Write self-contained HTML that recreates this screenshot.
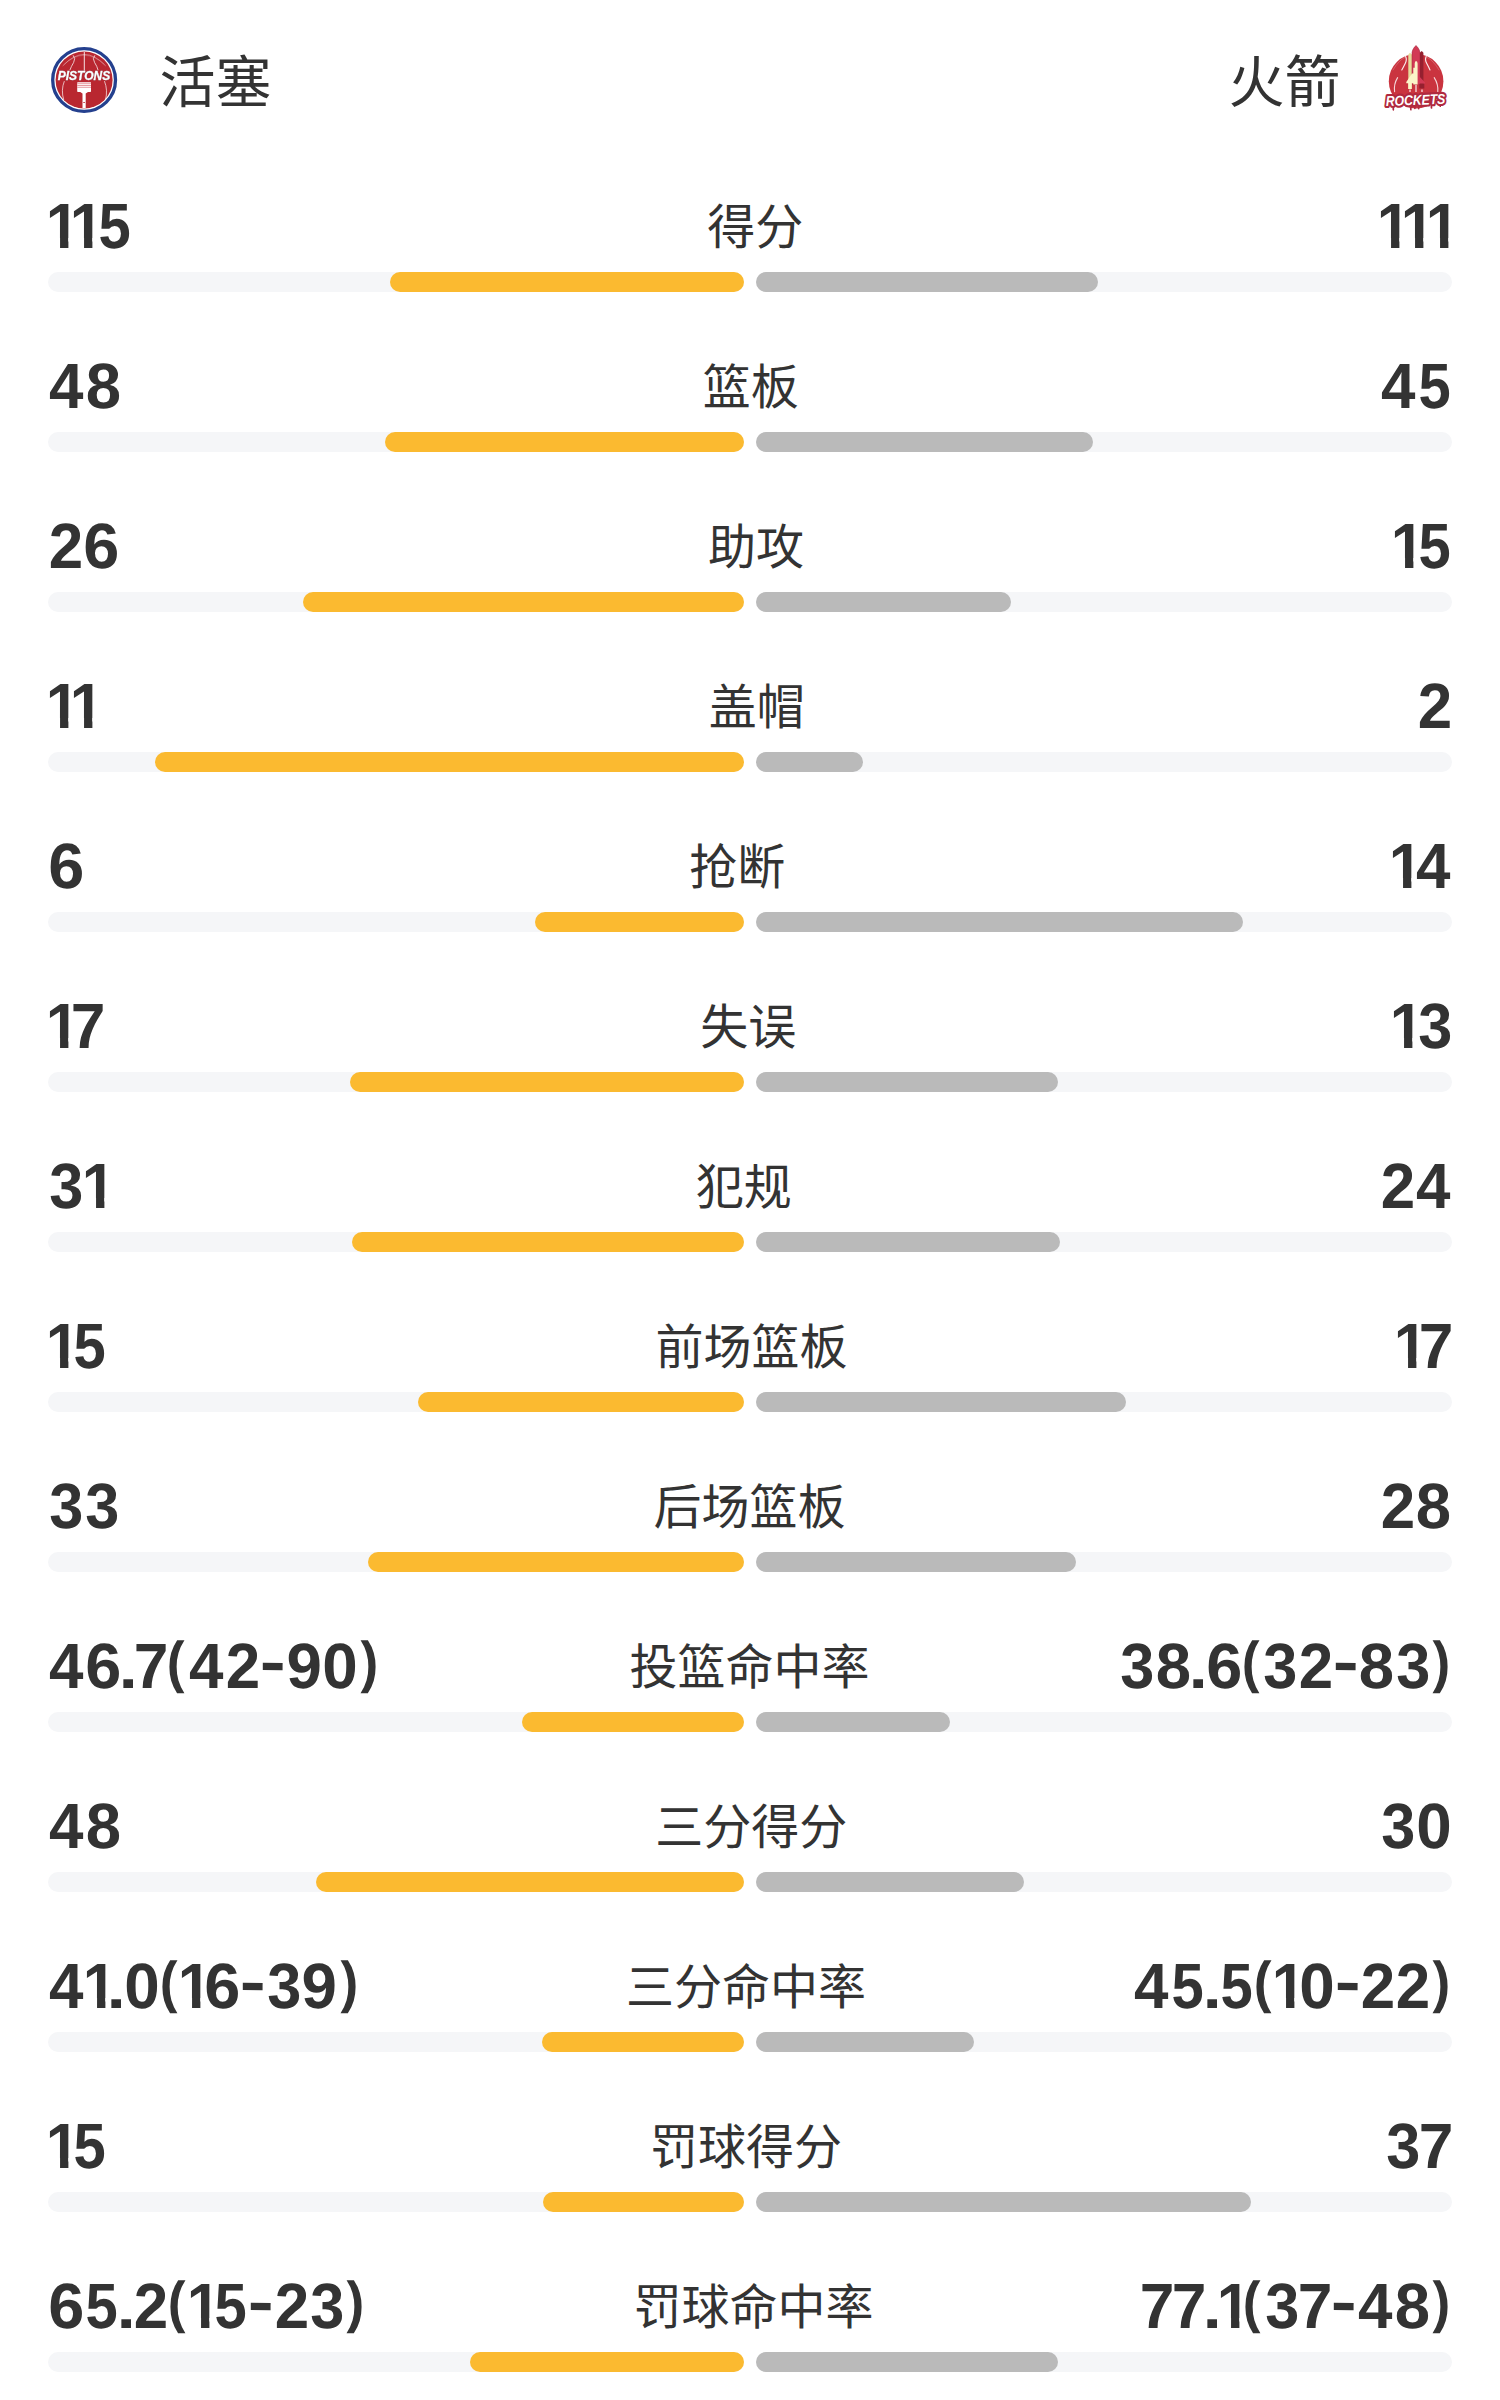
<!DOCTYPE html>
<html lang="zh">
<head>
<meta charset="utf-8">
<title>活塞 vs 火箭</title>
<style>
html,body{margin:0;padding:0;background:#fff}
body{width:1500px;height:2400px;position:relative;overflow:hidden;color:#333;font-family:"Liberation Sans","Noto Sans CJK SC",sans-serif}
.team{position:absolute;top:43px;height:80px;line-height:80px;font-size:56px;font-family:"Liberation Sans","Noto Sans CJK SC",sans-serif;white-space:nowrap}
.row{position:absolute;left:48px;width:1404px;height:72px;display:flex;justify-content:space-between;align-items:flex-start;white-space:nowrap}
.n{display:block;height:72px;line-height:72px;font-size:64px;font-weight:bold;font-family:"Liberation Sans",sans-serif}
.n i{font-style:normal;display:inline-block;height:72px;vertical-align:top;text-align:left;overflow:visible;white-space:nowrap;transform-origin:0 58.2px}
.n i.d1{width:24.3px;text-indent:-2.27px;transform:rotate(.05deg) scale(0.951,1);clip-path:polygon(0 0,40px 0,40px 48px,21.45px 48px,21.45px 72px,12.67px 72px,12.67px 48px,0 48px)}
.n i.d2{width:35.2px;text-indent:0.67px;transform:rotate(.05deg) scale(0.967,1)}
.n i.d3{width:35.5px;text-indent:1.25px;transform:rotate(.05deg) scale(0.956,1)}
.n i.d4{width:37.2px;text-indent:1.10px;transform:rotate(.05deg) scale(0.968,1)}
.n i.d5{width:35.0px;text-indent:1.57px;transform:rotate(.05deg) scale(0.905,1)}
.n i.d6{width:36.2px;text-indent:0.23px;transform:rotate(.05deg) scale(1.012,1)}
.n i.d7{width:31.9px;text-indent:-1.21px;transform:rotate(.05deg) scale(0.972,1)}
.n i.d8{width:36.7px;text-indent:0.80px;transform:rotate(.05deg) scale(0.991,1)}
.n i.d9{width:36.5px;text-indent:0.60px;transform:rotate(.05deg) scale(0.994,1)}
.n i.d0{width:36.0px;text-indent:0.38px;transform:rotate(.05deg) scale(0.995,1)}
.n i.p{width:14.1px;text-indent:-2.18px;transform:rotate(.05deg) scale(1.063,0.93)}
.n i.l{width:20.3px;text-indent:-0.42px;transform:rotate(.05deg) translateY(-6.6px) scale(0.831,0.888)}
.n i.r{width:21.6px;text-indent:3.07px;transform:rotate(.05deg) translateY(-6.6px) scale(0.831,0.888)}
.n i.h{width:25.5px;text-indent:-0.20px;transform:rotate(.05deg) translateY(-5.8px) scale(1.218,0.95)}
.lab{display:block;height:72px;line-height:72px;font-size:48px;font-family:"Liberation Sans","Noto Sans CJK SC",sans-serif;position:relative;top:2px}
.lg{position:absolute;display:block}
.bar{position:absolute;left:48px;width:1404px;height:20px}
.bar b{position:absolute;top:0;height:20px;border-radius:10px;display:block}
.tl{left:0;width:696px;background:#f5f6f8}
.tr{left:708px;width:696px;background:#f5f6f8}
.y{background:#fbba30}
.g{left:708px;background:#bababa}
</style>
</head>
<body>
<svg class="lg" style="left:40px;top:36px" width="90" height="90" viewBox="40 36 90 90">
<circle cx="84.1" cy="80" r="31.4" fill="#fff" stroke="#24408e" stroke-width="3.3"/>
<circle cx="84.1" cy="80" r="28.5" fill="#b92730"/>
<g fill="none" stroke="#fff" stroke-linecap="round">
<path d="M84.3 52.3V71" stroke-width="1" opacity=".85"/>
<path d="M63 65.6Q84.3 43 105.4 65.6" stroke-width=".7" opacity=".55"/>
<path d="M64.5 64Q84.3 46.5 103.9 64" stroke-width=".5" opacity=".35"/>
<path d="M73.4 55.6Q76 58.5 73.6 62.5T70 69.8" stroke-width=".9" opacity=".8"/>
<path d="M94.6 55.6Q92 58.5 94.6 62.5T98 69.8" stroke-width=".9" opacity=".8"/>
<path d="M64.2 81.5Q60.8 90 63.6 99.5" stroke-width=".9" opacity=".75"/>
<path d="M104.6 81.5Q108 90 105.6 99.5" stroke-width=".9" opacity=".75"/>
</g>
<text x="84" y="80" text-anchor="middle" font-family="Liberation Sans, sans-serif" font-weight="bold" font-style="italic" font-size="12.6" textLength="52.4" lengthAdjust="spacingAndGlyphs" fill="#fff" stroke="#fff" stroke-width=".35" style="filter:drop-shadow(.6px .8px 0 rgba(44,32,48,.8))">PISTONS</text>
<path d="M77.9 82.2h12.6q.5 0 .5.5v8.6q0 .7-.7.7h-2.3l-2.3 1.6v14.6h-3.2v-14.6l-2.3-1.6h-2.3q-.7 0-.7-.7v-8.6q0-.5.5-.5z" fill="#fff"/>
<path d="M77.2 83.7h13.8M77.2 85.5h13.8M77.2 87.3h13.8" stroke="#df8288" stroke-width=".8" fill="none"/>
<rect x="83.2" y="102" width="1.8" height=".8" fill="#b92730"/>
</svg>
<svg class="lg" style="left:1372px;top:36px" width="90" height="90" viewBox="1372 36 90 90">
<circle cx="1416.1" cy="81.3" r="27.3" fill="#ca343f"/>
<g fill="none" stroke="#fff" stroke-linecap="round">
<path d="M1405.6 56.4Q1407.2 59.5 1405.2 63.5T1401.8 70" stroke-width="1.15" opacity=".9"/>
<path d="M1426.2 56.4Q1424.6 59.5 1426.8 63.5T1430 70" stroke-width="1.15" opacity=".9"/>
<path d="M1397.6 77.6Q1393.6 84 1394.6 91.6" stroke-width="1.1" opacity=".8"/>
<path d="M1434.2 77.6Q1438.4 84 1437.8 91.6" stroke-width="1.1" opacity=".8"/>
<path d="M1393 70Q1399 60 1404.6 57.6" stroke-width=".5" opacity=".4"/>
<path d="M1439 70Q1433 60 1427.4 57.6" stroke-width=".5" opacity=".4"/>
</g>
<path d="M1420 52.6l1.8-1.6 1.6 1.8v30.6h.9v5h-5v-5h.7z" fill="#95202f"/>
<path d="M1412 52.4q.1-3.2 4-7 3.9 3.8 4 7V84.3h-8z" fill="#d23a55" stroke="#9a2236" stroke-width=".45"/>
<path d="M1408.3 54.6l1.7-1.9 1.7 1.9V89h-3.4z" fill="#e6dc9c"/>
<path d="M1417.6 74.8l.6.4 6.9 7.2v1h-6.3v1h-1.2z" fill="#d23a55"/>
<path d="M1416 61q1.5.5 1.6 2.4v21h-4.3v-1.2h-1.6V89h-3.4v-5.8h-2v-1.2l5.7-8.6h1.3v-5.7h1.4v-4.3q.2-1.9 1.3-2.4z" fill="#fbf5c8"/>
<path d="M1410 89.6v2.4M1416 85v7M1422 89.6v2.4" stroke="#fff" stroke-width="1.2" fill="none" opacity=".9"/>
<g transform="rotate(-2.2 1416 101)">
<path d="M1393 105.5v3.4M1410.5 105.5v4M1414.6 105.5v2.8M1418.4 105.5v3.2M1431.2 105v3.6M1440 104.6v2.6" stroke="#b0293e" stroke-width="1.7" stroke-linecap="round" fill="none"/>
<text x="1415.6" y="104.9" text-anchor="middle" font-family="Liberation Sans, sans-serif" font-weight="bold" font-style="italic" font-size="14.2" textLength="59.5" lengthAdjust="spacingAndGlyphs" fill="#fff" stroke="#b0293e" stroke-width="4.2" stroke-linejoin="round" paint-order="stroke">ROCKETS</text>
</g>
</svg>
<div class="team" style="left:159.5px">活塞</div>
<div class="team" style="left:1228.6px">火箭</div>
<div class="row" style="top:189.7px"><span class="n" aria-label="115"><i class="d1">1</i><i class="d1">1</i><i class="d5">5</i></span><span class="lab">得分</span><span class="n" aria-label="111"><i class="d1">1</i><i class="d1">1</i><i class="d1">1</i></span></div>
<div class="bar" style="top:272px"><b class="tl"></b><b class="tr"></b><b class="y" style="left:342px;width:354px"></b><b class="g" style="width:342px"></b></div>
<div class="row" style="top:349.7px"><span class="n" aria-label="48"><i class="d4">4</i><i class="d8">8</i></span><span class="lab">篮板</span><span class="n" aria-label="45"><i class="d4">4</i><i class="d5">5</i></span></div>
<div class="bar" style="top:432px"><b class="tl"></b><b class="tr"></b><b class="y" style="left:336.8px;width:359.2px"></b><b class="g" style="width:336.8px"></b></div>
<div class="row" style="top:509.7px"><span class="n" aria-label="26"><i class="d2">2</i><i class="d6">6</i></span><span class="lab">助攻</span><span class="n" aria-label="15"><i class="d1">1</i><i class="d5">5</i></span></div>
<div class="bar" style="top:592px"><b class="tl"></b><b class="tr"></b><b class="y" style="left:254.6px;width:441.4px"></b><b class="g" style="width:254.6px"></b></div>
<div class="row" style="top:669.7px"><span class="n" aria-label="11"><i class="d1">1</i><i class="d1">1</i></span><span class="lab">盖帽</span><span class="n" aria-label="2"><i class="d2">2</i></span></div>
<div class="bar" style="top:752px"><b class="tl"></b><b class="tr"></b><b class="y" style="left:107.1px;width:588.9px"></b><b class="g" style="width:107.1px"></b></div>
<div class="row" style="top:829.7px"><span class="n" aria-label="6"><i class="d6">6</i></span><span class="lab">抢断</span><span class="n" aria-label="14"><i class="d1">1</i><i class="d4">4</i></span></div>
<div class="bar" style="top:912px"><b class="tl"></b><b class="tr"></b><b class="y" style="left:487.2px;width:208.8px"></b><b class="g" style="width:487.2px"></b></div>
<div class="row" style="top:989.7px"><span class="n" aria-label="17"><i class="d1">1</i><i class="d7">7</i></span><span class="lab">失误</span><span class="n" aria-label="13"><i class="d1">1</i><i class="d3">3</i></span></div>
<div class="bar" style="top:1072px"><b class="tl"></b><b class="tr"></b><b class="y" style="left:301.6px;width:394.4px"></b><b class="g" style="width:301.6px"></b></div>
<div class="row" style="top:1149.7px"><span class="n" aria-label="31"><i class="d3">3</i><i class="d1">1</i></span><span class="lab">犯规</span><span class="n" aria-label="24"><i class="d2">2</i><i class="d4">4</i></span></div>
<div class="bar" style="top:1232px"><b class="tl"></b><b class="tr"></b><b class="y" style="left:303.7px;width:392.3px"></b><b class="g" style="width:303.7px"></b></div>
<div class="row" style="top:1309.7px"><span class="n" aria-label="15"><i class="d1">1</i><i class="d5">5</i></span><span class="lab">前场篮板</span><span class="n" aria-label="17"><i class="d1">1</i><i class="d7">7</i></span></div>
<div class="bar" style="top:1392px"><b class="tl"></b><b class="tr"></b><b class="y" style="left:369.75px;width:326.25px"></b><b class="g" style="width:369.75px"></b></div>
<div class="row" style="top:1469.7px"><span class="n" aria-label="33"><i class="d3">3</i><i class="d3">3</i></span><span class="lab">后场篮板</span><span class="n" aria-label="28"><i class="d2">2</i><i class="d8">8</i></span></div>
<div class="bar" style="top:1552px"><b class="tl"></b><b class="tr"></b><b class="y" style="left:319.5px;width:376.5px"></b><b class="g" style="width:319.5px"></b></div>
<div class="row" style="top:1629.7px"><span class="n" aria-label="46.7(42-90)"><i class="d4">4</i><i class="d6">6</i><i class="p">.</i><i class="d7">7</i><i class="l">(</i><i class="d4">4</i><i class="d2">2</i><i class="h">-</i><i class="d9">9</i><i class="d0">0</i><i class="r">)</i></span><span class="lab">投篮命中率</span><span class="n" aria-label="38.6(32-83)"><i class="d3">3</i><i class="d8">8</i><i class="p">.</i><i class="d6">6</i><i class="l">(</i><i class="d3">3</i><i class="d2">2</i><i class="h">-</i><i class="d8">8</i><i class="d3">3</i><i class="r">)</i></span></div>
<div class="bar" style="top:1712px"><b class="tl"></b><b class="tr"></b><b class="y" style="left:474px;width:222px"></b><b class="g" style="width:194px"></b></div>
<div class="row" style="top:1789.7px"><span class="n" aria-label="48"><i class="d4">4</i><i class="d8">8</i></span><span class="lab">三分得分</span><span class="n" aria-label="30"><i class="d3">3</i><i class="d0">0</i></span></div>
<div class="bar" style="top:1872px"><b class="tl"></b><b class="tr"></b><b class="y" style="left:267.7px;width:428.3px"></b><b class="g" style="width:267.7px"></b></div>
<div class="row" style="top:1949.7px"><span class="n" aria-label="41.0(16-39)"><i class="d4">4</i><i class="d1">1</i><i class="p">.</i><i class="d0">0</i><i class="l">(</i><i class="d1">1</i><i class="d6">6</i><i class="h">-</i><i class="d3">3</i><i class="d9">9</i><i class="r">)</i></span><span class="lab">三分命中率</span><span class="n" aria-label="45.5(10-22)"><i class="d4">4</i><i class="d5">5</i><i class="p">.</i><i class="d5">5</i><i class="l">(</i><i class="d1">1</i><i class="d0">0</i><i class="h">-</i><i class="d2">2</i><i class="d2">2</i><i class="r">)</i></span></div>
<div class="bar" style="top:2032px"><b class="tl"></b><b class="tr"></b><b class="y" style="left:494px;width:202px"></b><b class="g" style="width:218px"></b></div>
<div class="row" style="top:2109.7px"><span class="n" aria-label="15"><i class="d1">1</i><i class="d5">5</i></span><span class="lab">罚球得分</span><span class="n" aria-label="37"><i class="d3">3</i><i class="d7">7</i></span></div>
<div class="bar" style="top:2192px"><b class="tl"></b><b class="tr"></b><b class="y" style="left:495.2px;width:200.8px"></b><b class="g" style="width:495.2px"></b></div>
<div class="row" style="top:2269.7px"><span class="n" aria-label="65.2(15-23)"><i class="d6">6</i><i class="d5">5</i><i class="p">.</i><i class="d2">2</i><i class="l">(</i><i class="d1">1</i><i class="d5">5</i><i class="h">-</i><i class="d2">2</i><i class="d3">3</i><i class="r">)</i></span><span class="lab">罚球命中率</span><span class="n" aria-label="77.1(37-48)"><i class="d7">7</i><i class="d7">7</i><i class="p">.</i><i class="d1">1</i><i class="l">(</i><i class="d3">3</i><i class="d7">7</i><i class="h">-</i><i class="d4">4</i><i class="d8">8</i><i class="r">)</i></span></div>
<div class="bar" style="top:2352px"><b class="tl"></b><b class="tr"></b><b class="y" style="left:422px;width:274px"></b><b class="g" style="width:302px"></b></div>
</body>
</html>
